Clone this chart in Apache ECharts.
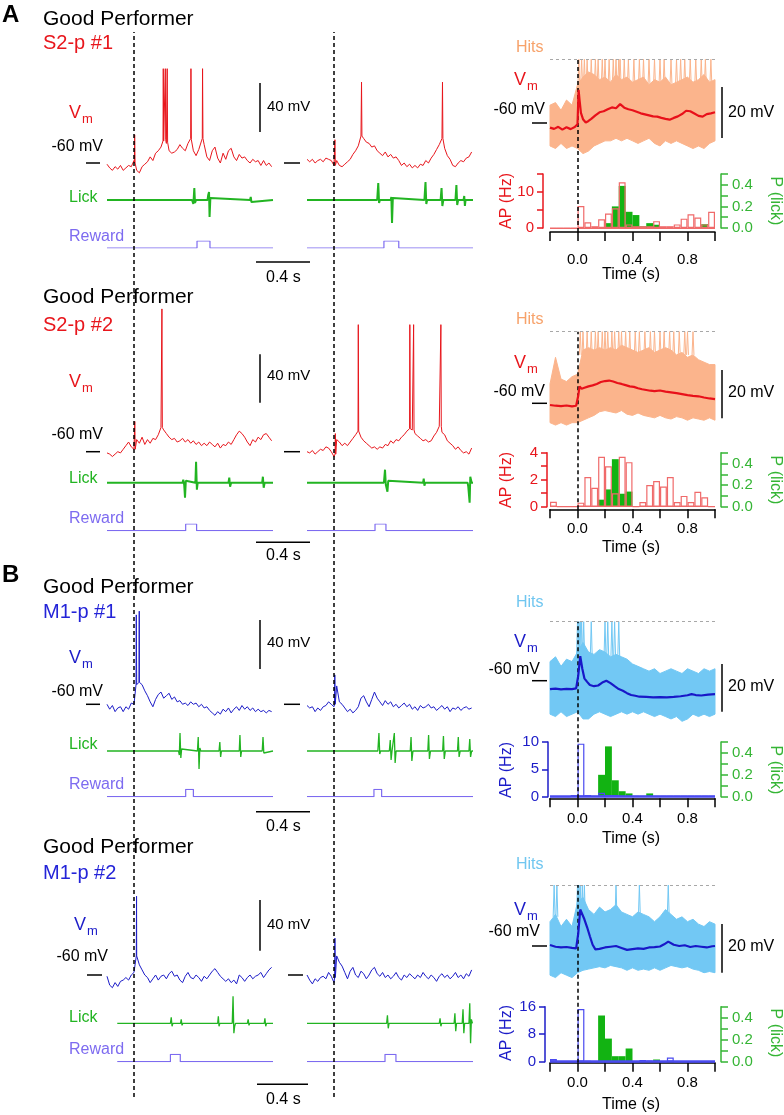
<!DOCTYPE html>
<html><head><meta charset="utf-8">
<script src="https://cdn.jsdelivr.net/npm/echarts@6/dist/echarts.min.js"></script>
<style>html,body{margin:0;padding:0;background:#fff}#c{width:784px;height:1115px}</style>
</head><body><div id="c"></div>
<script>
// ===================== DATA =====================
// Single-trial traces: Vm sampled every 0.02 s from -0.2 s (mV)
const VM_T0 = -0.2, VM_DT = 0.02;
const a1Vm1 = [-61,-64,-66,-63,-65,-62,-66,-64,-62,-63,-58, -66,-68,-63,-61,-59,-55,-58,-52,-50,-47, -42,-44,-50,-52,-51,-49,-45,-48,-50,-44, -40,-50,-54,-49,-42,-45,-55,-58,-50,-47, -56,-60,-52,-57,-50,-48,-55,-58,-53,-56, -55,-58,-60,-57,-59,-58,-62,-58,-62,-60,-63];
const a1Vm2 = [-57,-59,-57,-60,-58,-57,-59,-56,-57,-58,-62, -58,-62,-63,-61,-59,-57,-53,-50,-46,-38, -40,-43,-44,-47,-46,-50,-52,-54,-51,-55, -53,-56,-55,-58,-62,-60,-63,-61,-64,-62, -64,-61,-62,-58,-60,-56,-53,-49,-45,-40, -48,-54,-57,-62,-63,-60,-58,-59,-56,-55,-51];
const a2Vm1 = [-61,-62,-64,-62,-60,-61,-58,-55,-52,-56,-58, -50,-53,-48,-54,-50,-53,-49,-50,-46,-40, -42,-45,-48,-50,-49,-52,-51,-49,-52,-50, -53,-51,-54,-52,-55,-53,-55,-52,-54,-56, -53,-57,-54,-55,-52,-54,-50,-46,-43,-45, -48,-52,-55,-50,-52,-48,-50,-46,-45,-48,-51];
const a2Vm2 = [-60,-61,-59,-62,-60,-58,-59,-56,-57,-60,-64, -50,-52,-55,-53,-55,-52,-49,-46,-42,-48, -51,-53,-55,-57,-56,-58,-56,-57,-54,-55, -51,-53,-50,-51,-48,-46,-43,-41,-42,-45, -47,-49,-51,-50,-52,-51,-47,-44,-39,-44, -46,-51,-53,-55,-58,-56,-59,-61,-60,-62,-57];
const b1Vm1 = [-60,-64,-61,-66,-63,-62,-66,-62,-64,-59,-60, -44,-42,-44,-49,-53,-58,-62,-56,-52,-50, -55,-53,-51,-56,-54,-58,-57,-60,-59,-61, -58,-60,-59,-62,-60,-63,-62,-65,-67,-69, -66,-68,-64,-66,-63,-67,-64,-62,-65,-61, -64,-62,-65,-63,-66,-64,-66,-65,-67,-65,-66];
const b1Vm2 = [-61,-63,-62,-66,-63,-65,-62,-61,-58,-60,-62, -45,-58,-60,-63,-66,-64,-67,-65,-62,-55, -53,-58,-62,-56,-50,-55,-58,-61,-57,-60, -58,-62,-60,-63,-61,-59,-62,-60,-64,-62, -65,-61,-63,-62,-60,-63,-62,-65,-63,-61, -64,-62,-66,-63,-64,-62,-65,-63,-62,-64,-63];
const b2Vm1 = [-61,-68,-70,-66,-69,-65,-64,-62,-64,-60,-58, -45,-52,-56,-60,-62,-66,-63,-60,-64,-61, -60,-63,-59,-57,-61,-60,-64,-66,-61,-58, -62,-63,-60,-62,-65,-61,-63,-60,-57,-55, -58,-61,-63,-65,-63,-66,-64,-67,-60,-62, -65,-62,-60,-63,-61,-60,-58,-62,-59,-56,-54];
const b2Vm2 = [-60,-64,-67,-63,-65,-62,-61,-63,-58,-61,-66, -45,-50,-53,-58,-63,-57,-54,-60,-62,-57, -59,-63,-60,-56,-54,-59,-61,-58,-62,-60, -63,-61,-58,-62,-64,-60,-62,-59,-61,-63, -60,-62,-58,-61,-63,-60,-62,-65,-61,-59, -62,-60,-63,-61,-58,-62,-60,-63,-59,-61,-56];
// Action potentials: [time s, base mV, peak mV]
const a1Spk1 = [[0.003,-60,-37],[0.215,-42,17],[0.230,-41,17],[0.244,-43,17],[0.420,-41,17],[0.506,-40,17]];
const a1Spk2 = [[0.005,-62,-41],[0.202,-38,6],[0.802,-40,6]];
const a2Spk1 = [[0.004,-58,-35],[0.205,-40,58]];
const a2Spk2 = [[0.008,-62,-45],[0.178,-43,45],[0.560,-41,45],[0.588,-42,45],[0.790,-39,45]];
const b1Spk1 = [[0.015,-44,13],[0.037,-42,16]];
const b1Spk2 = [[0.004,-60,-36]];
const b2Spk1 = [[0.017,-45,2]];
const b2Spk2 = [[0.005,-62,-31]];
// Lick sensor traces: [time s, a.u.]
const a1Lick1 = [[-0.2,0],[0.43,0],[0.44,-4],[0.447,12],[0.452,-3],[0.46,0],[0.545,0],[0.55,5],[0.556,8],[0.56,-17],[0.566,2],[0.575,0],[0.86,0],[0.865,3],[0.87,-2],[0.875,0],[1.03,0]];
const a1Lick2 = [[-0.2,0],[0.32,0],[0.328,17],[0.334,-3],[0.34,0],[0.42,0],[0.425,3],[0.43,-23],[0.436,2],[0.445,0],[0.67,0],[0.678,18],[0.684,-4],[0.69,0],[0.79,0],[0.797,12],[0.803,-6],[0.81,0],[0.9,0],[0.907,15],[0.913,-5],[0.92,0],[0.96,0],[0.965,4],[0.97,-6],[0.975,0],[1.03,0]];
const a2Lick1 = [[-0.2,0],[0.36,0],[0.365,3],[0.372,-2],[0.378,-15],[0.384,2],[0.39,0],[0.455,0],[0.46,21],[0.466,-7],[0.472,0],[0.7,0],[0.706,5],[0.712,-4],[0.72,0],[0.95,0],[0.955,6],[0.961,-5],[0.968,0],[1.03,0]];
const a2Lick2 = [[-0.2,0],[0.37,0],[0.378,13],[0.384,-2],[0.392,0],[0.396,-9],[0.402,2],[0.41,0],[0.66,0],[0.665,4],[0.67,-3],[0.676,0],[0.99,0],[0.995,-4],[1.0,-12],[1.005,-20],[1.01,6],[1.02,0],[1.03,0]];
const b1Lick1 = [[-0.2,0],[0.33,0],[0.336,-4],[0.341,18],[0.347,-7],[0.353,2],[0.36,0],[0.47,0],[0.476,14],[0.482,-18],[0.488,3],[0.495,0],[0.63,0],[0.636,9],[0.642,-6],[0.648,0],[0.78,0],[0.785,16],[0.791,-6],[0.797,0],[0.95,0],[0.956,14],[0.962,-2],[0.968,0],[1.03,0]];
const b1Lick2 = [[-0.2,0],[0.325,0],[0.333,18],[0.339,-3],[0.345,0],[0.41,0],[0.417,11],[0.423,-9],[0.43,0],[0.44,0],[0.447,18],[0.453,-12],[0.46,0],[0.565,0],[0.571,14],[0.577,-10],[0.585,0],[0.695,0],[0.701,16],[0.707,-8],[0.715,0],[0.805,0],[0.811,15],[0.817,-8],[0.825,0],[0.915,0],[0.921,14],[0.927,-6],[0.935,0],[1.0,0],[1.006,12],[1.012,-6],[1.02,0],[1.03,0]];
const b2Lick1 = [[-0.124,0],[0.27,0],[0.276,6],[0.282,-3],[0.288,0],[0.345,0],[0.35,4],[0.356,-2],[0.362,0],[0.62,0],[0.625,7],[0.63,-3],[0.636,0],[0.728,0],[0.734,27],[0.74,-10],[0.746,-3],[0.752,0],[0.84,0],[0.846,4],[0.852,-2],[0.858,0],[0.965,0],[0.97,5],[0.976,-3],[0.982,0],[1.03,0]];
const b2Lick2 = [[-0.2,0],[0.39,0],[0.396,8],[0.402,-5],[0.408,0],[0.78,0],[0.786,5],[0.792,-3],[0.798,0],[0.89,0],[0.896,10],[0.902,-8],[0.908,0],[0.95,0],[0.956,14],[0.962,-10],[0.968,0],[1.0,0],[1.006,20],[1.012,-20],[1.018,4],[1.026,0],[1.03,0]];
// Reward valve: [on s, off s]; trace start/end
const a1Rew = [[0.467,0.563],[0.37,0.48]];
const a2Rew = [[0.383,0.464],[0.304,0.385]];
const b1Rew = [[0.383,0.44],[0.296,0.353]];
const b2Rew = [[0.27,0.343],[0.378,0.459]];
const b2TraceStart = [-0.124, -0.2];

// Hits overlay (right): envelope of all hit trials (mV) at these times
const hitsT = [-0.2,-0.16,-0.12,-0.08,-0.04,0,0.04,0.08,0.12,0.16,0.2,0.24,0.28,0.32,0.36,0.4,0.44,0.48,0.52,0.56,0.6,0.64,0.68,0.72,0.76,0.8,0.84,0.88,0.92,0.96,1.0];
const a1HitsLow  = [-69,-70,-68,-70,-69,-70,-72,-71,-69,-68,-67,-67,-66,-67,-66,-67,-68,-67,-66,-68,-69,-67,-68,-67,-68,-69,-70,-69,-70,-68,-67];
const a1HitsHigh = [-53,-52,-55,-51,-53,-45,-42,-40,-41,-43,-42,-44,-41,-43,-42,-44,-43,-42,-45,-43,-44,-42,-45,-44,-43,-42,-44,-43,-41,-44,-43];
const a2HitsLow  = [-68,-69,-68,-69,-68,-68,-67,-66,-65,-63.5,-63,-63.5,-64,-63,-64.5,-65,-64,-65,-65.5,-66,-65,-66,-66.5,-65.5,-66,-67,-66,-66.5,-67,-66,-67];
const a2HitsHigh = [-52,-41,-50,-51,-49,-48,-38,-37,-38,-37,-38,-37,-38,-36,-37,-38,-39,-38,-37,-39,-38,-37,-38,-40,-39,-41,-40,-42,-43,-44,-44];
const b1HitsLow  = [-74,-75,-73,-75,-74,-73,-76,-76,-74,-73,-74,-75,-74,-73,-74,-73,-74,-73,-74,-75,-74,-75,-76,-75,-77,-76,-74,-75,-74,-75,-74];
const b1HitsHigh = [-52,-50,-54,-51,-52,-48,-44,-48,-49,-47,-48,-50,-49,-50,-51,-53,-54,-55,-56,-55,-57,-56,-55,-56,-57,-55,-56,-57,-55,-56,-55];
const b2HitsLow  = [-72,-73,-71,-72,-73,-71,-70,-69.5,-69,-68.5,-69,-68,-68.5,-69,-70,-69,-70,-69.5,-70,-69,-70,-69,-68,-68.5,-69,-68.5,-69.5,-70,-71,-70.5,-71];
const b2HitsHigh = [-50,-47,-52,-49,-52,-42,-40,-45,-47,-44,-46,-45,-43,-46,-47,-48,-46,-47,-48,-50,-48,-45,-47,-49,-48,-50,-49,-51,-52,-50,-51];
// Spikes of individual hit trials (times, s), truncated at clip level
const a1HitsSpikes = [0.01,0.03,0.05,0.07,0.1,0.13,0.15,0.18,0.2,0.23,0.26,0.28,0.3,0.31,0.34,0.37,0.41,0.45,0.48,0.52,0.56,0.6,0.63,0.68,0.72,0.75,0.78,0.82,0.86,0.9,0.93,0.97];
const a2HitsSpikes = [0.02,0.04,0.07,0.1,0.13,0.15,0.18,0.2,0.22,0.25,0.27,0.3,0.32,0.35,0.38,0.42,0.45,0.49,0.53,0.56,0.6,0.63,0.67,0.7,0.74,0.78,0.8,0.84];
const b1HitsSpikes = [0.0,0.01,0.02,0.03,0.045,0.1,0.2,0.22,0.25,0.27,0.3];
const b2HitsSpikes = [-0.17,-0.15,0.0,0.01,0.02,0.035,0.05,0.28,0.45,0.66];
const hitsSpikeFrom = [-45, -40, -50, -48];
const hitsClip = [-35, -30.4, -35.3, -34.9];
// Mean Vm of hits: [t, mV]
const a1HitsMean = [[-0.2,-61.8],[-0.17,-62.3],[-0.14,-61.5],[-0.11,-62.6],[-0.08,-61.7],[-0.05,-62.4],[-0.02,-61.6],[0,-60.5],[0.008,-47],[0.015,-51],[0.025,-56],[0.04,-58.5],[0.06,-59.8],[0.08,-59.2],[0.1,-58.4],[0.13,-57],[0.16,-55.8],[0.19,-55.4],[0.22,-54.6],[0.25,-53.9],[0.28,-54.2],[0.31,-52.6],[0.34,-54],[0.37,-54.6],[0.4,-55],[0.43,-55.6],[0.46,-56.2],[0.49,-56.6],[0.52,-57],[0.55,-57.4],[0.58,-57.5],[0.61,-58],[0.64,-58.4],[0.67,-58.7],[0.7,-58],[0.73,-57.4],[0.76,-56.5],[0.79,-55.2],[0.82,-55.4],[0.85,-56.3],[0.88,-57.2],[0.91,-57.5],[0.94,-56.5],[0.97,-56.2],[1.0,-55.8]];
const a2HitsMean = [[-0.2,-60.7],[-0.16,-61],[-0.12,-61.2],[-0.08,-60.9],[-0.04,-61.3],[-0.01,-61],[0.005,-57],[0.015,-53],[0.03,-54],[0.05,-53.6],[0.08,-53],[0.11,-52.6],[0.14,-52],[0.17,-51.2],[0.2,-50.8],[0.23,-50.6],[0.26,-51],[0.29,-51.6],[0.32,-52],[0.35,-52.5],[0.38,-53],[0.41,-53.2],[0.44,-53.8],[0.47,-54.2],[0.5,-54.5],[0.53,-54.8],[0.56,-55],[0.6,-54.7],[0.64,-55.2],[0.68,-55.5],[0.72,-55.8],[0.76,-56.2],[0.8,-56.6],[0.84,-56.9],[0.88,-57.1],[0.92,-57.6],[0.96,-58],[1.0,-58.3]];
const b1HitsMean = [[-0.2,-63.5],[-0.16,-63.3],[-0.12,-63.6],[-0.08,-63.4],[-0.04,-63.5],[-0.01,-63.2],[0.005,-58],[0.02,-49.7],[0.035,-55],[0.05,-59],[0.07,-60.5],[0.09,-61.8],[0.12,-62.3],[0.15,-62],[0.18,-60.8],[0.21,-60],[0.24,-61],[0.27,-62.3],[0.3,-63.5],[0.33,-64.2],[0.36,-65.2],[0.39,-66],[0.42,-66.3],[0.45,-66.7],[0.5,-66.8],[0.55,-67],[0.6,-66.9],[0.65,-67],[0.7,-66.8],[0.75,-66.5],[0.8,-66.1],[0.83,-65.6],[0.86,-66],[0.9,-66.2],[0.95,-65.8],[1.0,-65.6]];
const b2HitsMean = [[-0.2,-59.6],[-0.16,-60.3],[-0.12,-60.6],[-0.08,-60.4],[-0.04,-60.8],[-0.01,-61],[0.005,-55],[0.02,-45],[0.03,-45.5],[0.05,-49],[0.07,-52.3],[0.09,-56],[0.11,-59.5],[0.13,-61.4],[0.16,-61.2],[0.2,-60.6],[0.24,-60.3],[0.28,-60],[0.32,-60.8],[0.36,-61.6],[0.4,-61.3],[0.44,-61],[0.48,-61.2],[0.52,-60.6],[0.56,-60.5],[0.6,-60.2],[0.63,-59.3],[0.66,-58.2],[0.7,-59.5],[0.74,-60],[0.78,-59.7],[0.82,-60.4],[0.86,-60],[0.9,-60.3],[0.94,-60.6],[0.98,-60.1],[1.0,-60]];
// PSTH bins (start, s; width 0.05 s)
const binStarts = [-0.2,-0.15,-0.1,-0.05,0,0.05,0.1,0.15,0.2,0.25,0.3,0.35,0.4,0.45,0.5,0.55,0.6,0.65,0.7,0.75,0.8,0.85,0.9,0.95];
const a1HistAP   = [0,0,0,0, 6.1,1.6,0.5,2.4, 4,5.5,12.7,1, 0.5,0.5,0.5,1.9, 0.5,0.5,1,2.6, 3.8,2.9,1,4.5];
const a1HistLick = [0,0,0,0, 0,0,0,0, 0.045,0.2,0.39,0.15, 0.12,0.015,0.045,0.03, 0,0,0,0, 0,0,0.035,0];
const a2HistAP   = [0.37,0,0,0, 0.3,2.2,1.4,3.7, 3.0,1.0,3.7,3.3, 0,0.35,1.6,1.9, 1.5,2.2,0.35,0.8, 0.35,1.1,0.7,0];
const a2HistLick = [0,0,0,0, 0,0,0.005,0.065, 0.16,0.44,0.12,0.14, 0,0,0,0, 0,0,0,0, 0,0,0,0];
const b1HistAP   = [0,0,0,0.3, 9.7,0.3,0.1,0.7, 0.3,0.3,0.1,0.1, 0.1,0.1,0.1,0.1, 0.1,0.1,0.1,0.1, 0.1,0.1,0.1,0.1];
const b1HistLick = [0,0,0,0, 0,0,0,0.2, 0.46,0.15,0.05,0.03, 0,0,0.03,0, 0,0,0,0, 0,0,0,0];
const b2HistAP   = [0.8,0,0,0, 15.3,0.2,0.1,0.1, 0.1,0.1,0.1,0.1, 0.1,0.5,0.3,0.2, 0.1,1.2,0.1,0.1, 0.1,0.1,0.1,0.1];
const b2HistLick = [0,0,0,0, 0,0,0,0.42, 0.21,0.05,0.05,0.12, 0,0,0,0.02, 0,0,0,0, 0,0,0,0];
// Axis ranges for the AP histograms: [max, tick step, label step]
const apAxes = [[15,5,10],[4,1,2],[10,5,5],[16,8,8]];
const timeTicks = {min:-0.2, max:1.0, step:0.2};
const titles = ['S2-p #1','S2-p #2','M1-p #1','M1-p #2'];

// ===================== STYLE / LAYOUT =====================
const FONTNAME = 'Liberation Sans';
const FONT = "'Liberation Sans', Arial, sans-serif";
const C = {red:'#e8161c', blue:'#1c1cc8', green:'#22b422', purple:'#7d6bf0', orangeL:'#fbb48c', blueL:'#72c8f4',
  hitsA:'#f7a26a', hitsB:'#70c6f0', histRed:'#f06a6a', histBlue:'#4a4af0', histGreen:'#12b312', axGreen:'#35b535', meanA:'#e8101a', meanB:'#1818c8'};
const LAY = [
 {letter:'A', letterY:15, titleY:19, subY:43, vX:69, vY:113, v60X:103, v60Y:147, dashY:163, dashX1:[86,100], dashX2:[284,300], vScale:1.225, vBar:[83,132], vBarY:107,
  lickLY:198, lickY:200, rewLY:237, rewLow:248, rewHigh:241, sBarY:262, sBarX:[256,310], sLY:278,
  rHitsY:48, rVY:80, r60X:545, r60Y:110, r60Dash:123, rScale:2.55, rBar:[87,138], rBarY:113, hBase:228, hTop:174, hAxisY:232, hLY:260, hTimeY:275, hNameY:201, lOff:7, rOff:6},
 {titleY:297, subY:325, vX:69, vY:382, v60X:103, v60Y:435, dashY:451.7, dashX1:[86,100], dashX2:[284,300], vScale:1.21, vBar:[354.3,402.7], vBarY:376,
  lickLY:479, lickY:482.7, rewLY:519, rewLow:530.7, rewHigh:524, sBarY:542.3, sBarX:[256,310], sLY:556,
  rHitsY:320, rVY:363, r60X:545, r60Y:392, r60Dash:403.3, rScale:2.42, rBar:[370,418.3], rBarY:393, hBase:506.7, hTop:452.7, hAxisY:509.3, hLY:529.3, hTimeY:548, hNameY:480, lOff:3, rOff:6},
 {letter:'B', letterY:575, titleY:587, subY:612, vX:69, vY:658, v60X:103, v60Y:692, dashY:704.3, dashX1:[86,100], dashX2:[284,300], vScale:1.225, vBar:[620,669], vBarY:643,
  lickLY:745, lickY:751, rewLY:785, rewLow:796.7, rewHigh:789.3, sBarY:811.7, sBarX:[256,310], sLY:827,
  rHitsY:603, rVY:642, r60X:540, r60Y:670, r60Dash:680.7, rScale:2.39, rBar:[664,711.7], rBarY:687, hBase:796.7, hTop:742, hAxisY:798.3, hLY:819.3, hTimeY:839, hNameY:770, lOff:2, rOff:6},
 {titleY:847, subY:873, vX:74, vY:925, v60X:108, v60Y:957, dashY:975, dashX1:[87,102], dashX2:[288,303], vScale:1.27, vBar:[900,950.7], vBarY:925,
  lickLY:1018, lickY:1023.3, rewLY:1050, rewLow:1061.7, rewHigh:1054.3, sBarY:1084.3, sBarX:[257,308], sLY:1100,
  rHitsY:865, rVY:910, r60X:540, r60Y:932, r60Dash:946, rScale:2.43, rBar:[924,972.7], rBarY:947, hBase:1061.7, hTop:1006.7, hAxisY:1062.7, hLY:1082.7, hTimeY:1105, hNameY:1033, lOff:5, rOff:6}
];
const panels = [
 {vm:[a1Vm1,a1Vm2], spk:[a1Spk1,a1Spk2], lick:[a1Lick1,a1Lick2], rew:a1Rew, start:[-0.2,-0.2], low:a1HitsLow, high:a1HitsHigh, hs:a1HitsSpikes, mean:a1HitsMean, ap:a1HistAP, lp:a1HistLick, isA:true},
 {vm:[a2Vm1,a2Vm2], spk:[a2Spk1,a2Spk2], lick:[a2Lick1,a2Lick2], rew:a2Rew, start:[-0.2,-0.2], low:a2HitsLow, high:a2HitsHigh, hs:a2HitsSpikes, mean:a2HitsMean, ap:a2HistAP, lp:a2HistLick, isA:true},
 {vm:[b1Vm1,b1Vm2], spk:[b1Spk1,b1Spk2], lick:[b1Lick1,b1Lick2], rew:b1Rew, start:[-0.2,-0.2], low:b1HitsLow, high:b1HitsHigh, hs:b1HitsSpikes, mean:b1HitsMean, ap:b1HistAP, lp:b1HistLick, isA:false},
 {vm:[b2Vm1,b2Vm2], spk:[b2Spk1,b2Spk2], lick:[b2Lick1,b2Lick2], rew:b2Rew, start:b2TraceStart, low:b2HitsLow, high:b2HitsHigh, hs:b2HitsSpikes, mean:b2HitsMean, ap:b2HistAP, lp:b2HistLick, isA:false}
];
const TRIAL_LEFT = [107, 307], TRIAL_W = 166, T_MIN = -0.2, T_MAX = 1.03, T_END = 1.03;
const R_LEFT = 550, R_W = 165;

// ===================== BUILD =====================
const grid = [], xAxis = [], yAxis = [], series = [], graphic = [];
function hv(min, max) { return {type:'value', show:false, min, max, splitLine:{show:false}, axisLine:{show:false}, axisTick:{show:false}, axisLabel:{show:false}}; }
function addGrid(rect, xs, ys) {
  grid.push(rect); const gi = grid.length - 1;
  const xi = xs.map(a => { a.gridIndex = gi; xAxis.push(a); return xAxis.length - 1; });
  const yi = ys.map(a => { a.gridIndex = gi; yAxis.push(a); return yAxis.length - 1; });
  return {xi, yi};
}
function vmData(vals, spikes) {
  const pts = vals.map((v, i) => [VM_T0 + i * VM_DT, v]);
  spikes.forEach(s => { pts.push([s[0], s[1]], [s[0] + 0.002, s[2]], [s[0] + 0.005, s[1]]); });
  pts.sort((a, b) => a[0] - b[0]);
  return pts;
}
function rewData(r, start) { return [[start,0],[r[0],0],[r[0],1],[r[1],1],[r[1],0],[T_END,0]]; }
function T(x, y, s, size, color, o) {
  o = o || {};
  return {type:'text', x, y, rotation:o.rot || 0, z:50, silent:true,
    style:{text:s, fill:color, font:(o.bold ? 'bold ' : '') + size + 'px ' + FONT,
      textAlign:o.align || 'left', textVerticalAlign:'middle', align:o.align || 'left', verticalAlign:'middle'}};
}
function Ln(x1, y1, x2, y2, color, w) { return {type:'line', z:50, silent:true, shape:{x1, y1, x2, y2}, style:{stroke:color || '#000', lineWidth:w || 1.5}}; }
function line(g, data, color, width, extra) {
  return Object.assign({type:'line', xAxisIndex:g.xi[0], yAxisIndex:g.yi[0], data, symbol:'none', showSymbol:false,
    lineStyle:{color, width}, itemStyle:{color}, animation:false, silent:true}, extra || {});
}

panels.forEach((p, pi) => {
  const L = LAY[pi];
  const dark = p.isA ? C.red : C.blue;
  const light = p.isA ? C.orangeL : C.blueL;
  const histCol = p.isA ? C.histRed : C.histBlue;
  const axCol = p.isA ? C.red : C.blue;
  // ---- left single trials ----
  [0, 1].forEach(k => {
    const left = TRIAL_LEFT[k];
    let g = addGrid({left, top:L.dashY - 130 * L.vScale, width:TRIAL_W, height:150 * L.vScale}, [hv(T_MIN, T_MAX)], [hv(-80, 70)]);
    series.push(line(g, vmData(p.vm[k], p.spk[k]), dark, 1));
    g = addGrid({left, top:L.lickY - 30, width:TRIAL_W, height:60}, [hv(T_MIN, T_MAX)], [hv(-30, 30)]);
    series.push(line(g, p.lick[k], C.green, p.isA ? 2 : 1.3));
    g = addGrid({left, top:L.rewHigh, width:TRIAL_W, height:L.rewLow - L.rewHigh}, [hv(T_MIN, T_MAX)], [hv(0, 1)]);
    series.push(line(g, rewData(p.rew[k], p.start[k]), C.purple, 1.2));
  });
  // ---- right: hits overlay ----
  const clip = hitsClip[pi];
  const gO = addGrid({left:R_LEFT, top:L.r60Dash - 35 * L.rScale, width:R_W, height:55 * L.rScale}, [hv(-0.2, 1.0)], [hv(-80, -25)]);
  const low = p.low, high = p.high;
  series.push({type:'custom', xAxisIndex:gO.xi[0], yAxisIndex:gO.yi[0], data:[[0, -60]], animation:false, silent:true,
    renderItem:(params, api) => {
      const pts = [];
      hitsT.forEach((t, i) => pts.push(api.coord([t, high[i]])));
      for (let i = hitsT.length - 1; i >= 0; i--) pts.push(api.coord([hitsT[i], low[i]]));
      return {type:'polygon', shape:{points:pts}, style:{fill:light, stroke:light, lineWidth:1}};
    },
    markLine:{silent:true, symbol:['none','none'], label:{show:false}, animation:false,
      lineStyle:{color:'#a8a8a8', type:[3,3], width:1}, data:[{yAxis:clip}]}});
  const spkData = [];
  p.hs.forEach(t => { spkData.push([t - 0.007, hitsSpikeFrom[pi]], [t, clip], [t + 0.007, hitsSpikeFrom[pi]], [t + 0.0071, '-']); });
  series.push(line(gO, spkData, light, 1, {connectNulls:false}));
  series.push(line(gO, p.mean, p.isA ? C.meanA : C.meanB, 2.2, {z:5}));
  // ---- right: histogram ----
  const ax = apAxes[pi];
  const gH = addGrid({left:R_LEFT, top:L.hTop, width:R_W, height:L.hBase - L.hTop},
    [{type:'category', data:binStarts.map(String), show:false, boundaryGap:true},
     {type:'value', min:timeTicks.min, max:timeTicks.max, interval:timeTicks.step, position:'bottom', offset:L.hAxisY - L.hBase,
      axisLine:{show:true, onZero:false, lineStyle:{color:'#000', width:1.5}},
      axisTick:{show:true, length:9, lineStyle:{color:'#000', width:1.5}},
      axisLabel:{margin:L.hLY - L.hAxisY - 7.5, fontSize:15, color:'#000', fontFamily:FONTNAME,
        formatter:v => { const q = Math.round(v * 10); return (q >= 0 && q % 4 === 0) ? (q / 10).toFixed(1) : ''; }},
      splitLine:{show:false}}],
    [{type:'value', min:0, max:ax[0], interval:ax[1], position:'left', offset:L.lOff,
      axisLine:{show:true, onZero:false, lineStyle:{color:axCol, width:1.5}},
      axisTick:{show:true, length:6, lineStyle:{color:axCol, width:1.5}},
      axisLabel:{margin:9, fontSize:15, color:axCol, fontFamily:FONTNAME,
        formatter:v => (Math.abs(v % ax[2]) < 1e-9 ? String(v) : '')},
      splitLine:{show:false}},
     {type:'value', min:0, max:0.5, interval:0.1, position:'right', offset:L.rOff,
      axisLine:{show:true, onZero:false, lineStyle:{color:C.axGreen, width:1.5}},
      axisTick:{show:true, length:7, lineStyle:{color:C.axGreen, width:1.5}},
      axisLabel:{margin:11, fontSize:15, color:C.axGreen, fontFamily:FONTNAME,
        formatter:v => { const q = Math.round(v * 10); return (q % 2 === 0 && q <= 4) ? (q / 10).toFixed(1) : ''; }},
      splitLine:{show:false}}]);
  series.push({type:'bar', xAxisIndex:gH.xi[0], yAxisIndex:gH.yi[1], data:p.lp, barCategoryGap:'0%', barGap:'-100%',
    itemStyle:{color:C.histGreen}, animation:false, silent:true});
  series.push({type:'bar', xAxisIndex:gH.xi[0], yAxisIndex:gH.yi[0], data:p.ap, barCategoryGap:'0%', barGap:'-100%',
    itemStyle:{color:'rgba(0,0,0,0)', borderColor:histCol, borderWidth:1.2}, animation:false, silent:true,
    markLine:{silent:true, symbol:['none','none'], label:{show:false}, animation:false,
      lineStyle:{color:histCol, type:'solid', width:p.isA ? 1.2 : 2.5}, data:[{yAxis:0}]}});
  // ---- right: t=0 dashed guide ----
  const clipY = L.r60Dash - (clip + 60) * L.rScale;
  const gG = addGrid({left:R_LEFT, top:clipY, width:R_W, height:L.hAxisY - clipY}, [hv(-0.2, 1.0)], [hv(0, 1)]);
  series.push(line(gG, [[0, 0]], '#000', 0, {z:20, lineStyle:{opacity:0},
    markLine:{silent:true, symbol:['none','none'], label:{show:false}, animation:false,
      lineStyle:{color:'#000', type:[4,3], width:1.5}, data:[{xAxis:0}]}}));

  // ---- texts & scale bars ----
  if (L.letter) graphic.push(T(2, L.letterY, L.letter, 24, '#000', {bold:true}));
  graphic.push(T(43, L.titleY, 'Good Performer', 21, '#000'));
  graphic.push(T(43, L.subY, titles[pi], 20, p.isA ? C.red : '#2424d8'));
  graphic.push(T(L.vX, L.vY, 'V', 18, dark), T(L.vX + 13, L.vY + 6, 'm', 13, dark));
  graphic.push(T(L.v60X, L.v60Y, '-60 mV', 16, '#000', {align:'right'}));
  graphic.push(Ln(L.dashX1[0], L.dashY, L.dashX1[1], L.dashY), Ln(L.dashX2[0], L.dashY, L.dashX2[1], L.dashY));
  graphic.push(Ln(260, L.vBar[0], 260, L.vBar[1]), T(267, L.vBarY, '40 mV', 15, '#000'));
  graphic.push(T(69, L.lickLY, 'Lick', 16, C.green), T(69, L.rewLY, 'Reward', 16, C.purple));
  graphic.push(Ln(L.sBarX[0], L.sBarY, L.sBarX[1], L.sBarY), T(266, L.sLY, '0.4 s', 16, '#000'));
  graphic.push(T(516, L.rHitsY, 'Hits', 16, p.isA ? C.hitsA : C.hitsB));
  graphic.push(T(514, L.rVY, 'V', 18, dark), T(527, L.rVY + 6, 'm', 13, dark));
  graphic.push(T(L.r60X, L.r60Y, '-60 mV', 16, '#000', {align:'right'}));
  graphic.push(Ln(532, L.r60Dash, 547, L.r60Dash));
  graphic.push(Ln(722, L.rBar[0], 722, L.rBar[1]), T(728, L.rBarY, '20 mV', 16, '#000'));
  graphic.push(T(507, L.hNameY, 'AP (Hz)', 16, axCol, {align:'center', rot:Math.PI / 2}));
  graphic.push(T(775, L.hNameY, 'P (lick)', 16, C.axGreen, {align:'center', rot:-Math.PI / 2}));
  graphic.push(T(631, L.hTimeY, 'Time (s)', 16, '#000', {align:'center'}));
});
// full-height t=0 dashed guides for the single-trial columns
[0, 1].forEach(k => {
  const g = addGrid({left:TRIAL_LEFT[k], top:32, width:TRIAL_W, height:1097 - 32}, [hv(T_MIN, T_MAX)], [hv(0, 1)]);
  series.push(line(g, [[0, 0]], '#000', 0, {z:20, lineStyle:{opacity:0},
    markLine:{silent:true, symbol:['none','none'], label:{show:false}, animation:false,
      lineStyle:{color:'#000', type:[4,3], width:1.5}, data:[{xAxis:0}]}}));
});

const chart = echarts.init(document.getElementById('c'), null, {renderer:'canvas', width:784, height:1115});
chart.setOption({animation:false, backgroundColor:'#fff', grid, xAxis, yAxis, series, graphic});
</script></body></html>
